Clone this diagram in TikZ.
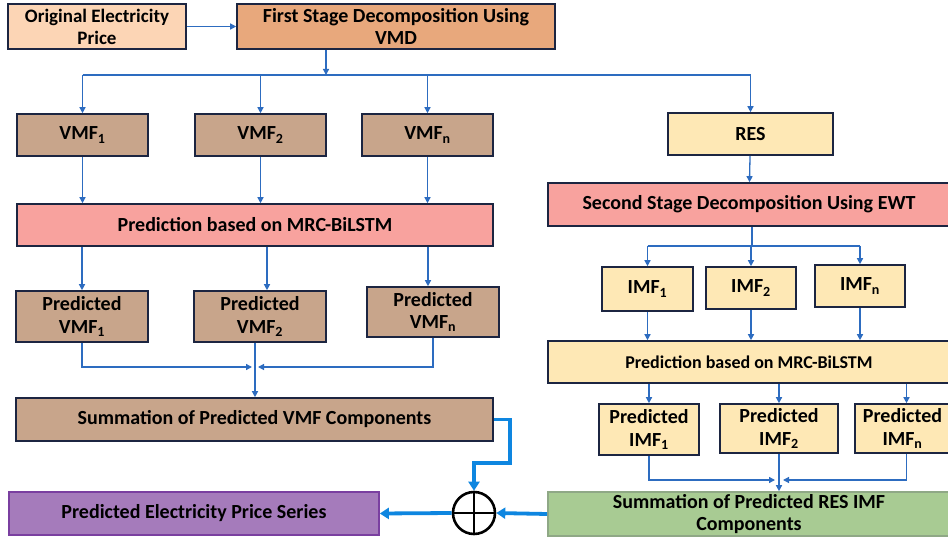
\documentclass[tikz,border=0pt]{standalone}
\usepackage{fontspec}
\setmainfont{Carlito}
\usetikzlibrary{arrows.meta}
\definecolor{navy}{HTML}{1C2541}
\definecolor{lblue}{HTML}{2D6CC0}
\definecolor{tblue}{HTML}{0E86E0}
\definecolor{peach}{HTML}{FCD5B5}
\definecolor{orng}{HTML}{E8A87C}
\definecolor{tan}{HTML}{C8A58B}
\definecolor{yel}{HTML}{FEE8B5}
\definecolor{pnk}{HTML}{F8A29E}
\definecolor{grn}{HTML}{A8CB93}
\definecolor{grnb}{HTML}{8FA886}
\definecolor{purp}{HTML}{A57BBB}
\definecolor{purpb}{HTML}{7A3FA0}
\begin{document}
\begin{tikzpicture}[x=1pt,y=-1pt,
  box/.style={draw=navy, line width=1.6pt, align=center, inner sep=0pt,
    font=\bfseries\fontsize{20}{22.5}\selectfont},
  tl/.style={draw=lblue, line width=1.3pt},
  ta/.style={tl, -{Triangle[length=6pt,width=6pt]}},
  tk/.style={draw=tblue, line width=3.8pt, -{Triangle[length=9pt,width=11pt]}},
  tkl/.style={draw=tblue, line width=3.8pt}]
\useasboundingbox[fill=white] (0,0) rectangle (948,540);

% boxes
\node[box, fill=peach, minimum width=178pt, minimum height=45pt, font=\bfseries\fontsize{19}{22}\selectfont] (orig) at (97,26.5) {Original Electricity\\Price};
\node[box, fill=orng, minimum width=318pt, minimum height=45pt] (first) at (396,26.5) {First Stage Decomposition Using\\VMD};

\node[box, fill=tan, minimum width=131pt, minimum height=42pt] (vmf1) at (82.5,135) {VMF\textsubscript{1}};
\node[box, fill=tan, minimum width=131pt, minimum height=42pt] (vmf2) at (260.5,135) {VMF\textsubscript{2}};
\node[box, fill=tan, minimum width=131pt, minimum height=42pt] (vmfn) at (427.5,135) {VMF\textsubscript{n}};
\node[box, fill=yel, minimum width=165pt, minimum height=42pt] (res) at (750.5,134) {RES};

\node[box, fill=pnk, minimum width=476pt, minimum height=42pt] (pred) at (255,225) {Prediction based on MRC-BiLSTM};
\node[box, fill=pnk, minimum width=402pt, minimum height=43pt] (second) at (749,204.5) {Second Stage Decomposition Using EWT};

\node[box, fill=tan, minimum width=132pt, minimum height=51pt] (pvmf1) at (82,316.5) {Predicted\\VMF\textsubscript{1}};
\node[box, fill=tan, minimum width=132pt, minimum height=51pt] (pvmf2) at (260,316.5) {Predicted\\VMF\textsubscript{2}};
\node[box, fill=tan, minimum width=132pt, minimum height=50pt] (pvmfn) at (433,312) {Predicted\\VMF\textsubscript{n}};

\node[box, fill=tan, minimum width=477pt, minimum height=43pt] (sumv) at (254.5,419.5) {Summation of Predicted VMF Components};

\node[box, fill=yel, minimum width=91pt, minimum height=44pt] (imf1) at (647.5,289) {IMF\textsubscript{1}};
\node[box, fill=yel, minimum width=90pt, minimum height=42pt] (imf2) at (751,288) {IMF\textsubscript{2}};
\node[box, fill=yel, minimum width=90pt, minimum height=42pt] (imfn) at (860,286) {IMF\textsubscript{n}};

\node[box, fill=yel, minimum width=402pt, minimum height=42pt, font=\bfseries\fontsize{18}{20}\selectfont] (pred2) at (749,362) {Prediction based on MRC-BiLSTM};

\node[box, fill=yel, minimum width=100pt, minimum height=51pt] (pimf1) at (649,429.5) {Predicted\\IMF\textsubscript{1}};
\node[box, fill=yel, minimum width=118pt, minimum height=49pt] (pimf2) at (779,428.5) {Predicted\\IMF\textsubscript{2}};
\node[box, fill=yel, minimum width=95pt, minimum height=49pt] (pimfn) at (902.5,428.5) {Predicted\\IMF\textsubscript{n}};

\node[box, draw=purpb, fill=purp, minimum width=370pt, minimum height=43pt] (out) at (194,513.5) {Predicted Electricity Price Series};
\node[box, draw=grnb, fill=grn, minimum width=402pt, minimum height=44pt] (sumr) at (749,514) {Summation of Predicted RES IMF\\Components};

\node[circle, draw=black, line width=2.6pt, minimum size=42pt, inner sep=0pt] (circ) at (474,513) {};
\draw[line width=2.6pt] (circ.north) -- (circ.south);
\draw[line width=2.6pt] (circ.west) -- (circ.east);

% first stage connectors
\draw[ta] (orig) -- (first);
\coordinate (j1) at (326,75);
\draw[ta] (first.south -| j1) -- (j1);
\draw[tl] (vmf1 |- j1) -- (res |- j1);
\draw[ta] (vmf1 |- j1) -- (vmf1);
\draw[ta] (vmf2 |- j1) -- (vmf2);
\draw[ta] (vmfn |- j1) -- (vmfn);
\draw[ta] (res |- j1) -- (res);

\draw[ta] (vmf1) -- (vmf1 |- pred.north);
\draw[ta] (vmf2) -- (vmf2 |- pred.north);
\draw[ta] (vmfn) -- (vmfn |- pred.north);

\coordinate (p2) at ([xshift=7pt]pvmf2.north);
\coordinate (pn) at ([xshift=-5pt]pvmfn.north);
\draw[ta] (pred.south -| pvmf1) -- (pvmf1);
\draw[ta] (pred.south -| p2) -- (p2);
\draw[ta] (pred.south -| pn) -- (pn);

\coordinate (m1) at (255,367);
\coordinate (m1l) at (252,367);
\coordinate (m1r) at (258,367);
\draw[ta] (pvmf1.south) |- (m1l);
\draw[ta] (pvmfn.south) |- (m1r);
\draw[ta] (pvmf2.south -| m1) -- (sumv.north -| m1);

% second stage connectors
\draw[ta] (res) -- (second);
\coordinate (j2) at (752,246);
\draw[tl] (second.south -| j2) -- (j2);
\draw[tl] (imf1 |- j2) -- (imfn |- j2);
\draw[ta] (imf1 |- j2) -- (imf1);
\draw[ta] (imf2 |- j2) -- (imf2);
\draw[ta] (imfn |- j2) -- (imfn);

\draw[ta] (imf1) -- (imf1 |- pred2.north);
\draw[ta] (imf2) -- (imf2 |- pred2.north);
\draw[ta] (imfn) -- (imfn |- pred2.north);

\coordinate (q3) at ([xshift=4pt]pimfn.north);
\draw[ta] (pred2.south -| pimf1) -- (pimf1);
\draw[ta] (pred2.south -| pimf2) -- (pimf2);
\draw[ta] (pred2.south -| q3) -- (q3);

\coordinate (m2) at (779,480);
\coordinate (m2l) at (775,480);
\coordinate (m2r) at (783,480);
\coordinate (q3b) at ([xshift=4pt]pimfn.south);
\draw[ta] (pimf1.south) |- (m2l);
\draw[ta] (q3b) |- (m2r);
\draw[ta] (pimf2) -- (sumr.north -| pimf2);

% thick connectors
\coordinate (t1) at (510,419.5);
\coordinate (t2) at (474,463);
\draw[tk] (sumv.east) -- (t1) |- (t2) -- (circ.north);
\draw[tk] (sumr.west) -- (circ.east);
\draw[tk] (circ.west) -- (out.east);
\end{tikzpicture}
\end{document}
